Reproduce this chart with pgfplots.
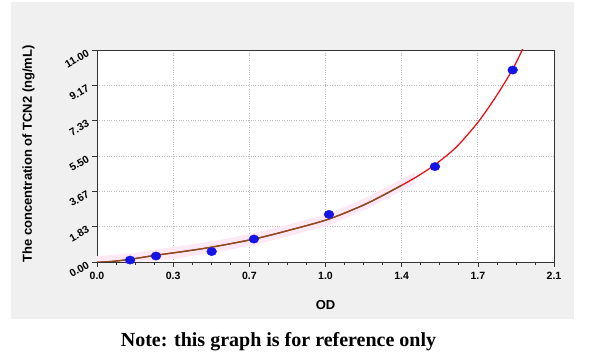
\documentclass[border=0pt]{standalone}
\usepackage{pgfplots}
\pgfplotsset{compat=1.18}
\usepackage{fontspec}
\setmainfont{Liberation Sans}
\newfontfamily\notefont{Liberation Serif}
\definecolor{panel}{HTML}{F0F0F0}
\definecolor{curvered}{HTML}{E8141A}
\definecolor{curvebrown}{HTML}{84501E}
\definecolor{dotblue}{HTML}{1414E6}
\definecolor{bandpink}{HTML}{FDE8F5}
\definecolor{gridgray}{HTML}{BDBDBD}
\definecolor{axisgray}{HTML}{333333}
\begin{document}
\begin{tikzpicture}[x=1pt,y=1pt]
\useasboundingbox (0,0) rectangle (600,358);
\fill[panel] (11,39) rectangle (574,356);
\begin{axis}[
  at={(97pt,96pt)}, anchor=south west,
  scale only axis, width=457pt, height=212pt,
  xmin=0, xmax=2.1, ymin=0, ymax=11,
  xtick={0,0.35,0.7,1.05,1.4,1.75,2.1},
  xticklabels={0.0,0.3,0.7,1.0,1.4,1.7,2.1},
  ytick={0,1.83333,3.66667,5.5,7.33333,9.16667,11},
  yticklabels={0.00,1.83,3.67,5.50,7.33,9.17,11.00},
  minor x tick num=3, minor y tick num=3,
  xtick pos=bottom, ytick pos=left,
  tick align=outside,
  major tick length=5pt, minor tick length=3pt,
  grid=major,
  major grid style={gridgray, dotted, line width=0.7pt},
  axis line style={axisgray, line width=0.8pt},
  every tick/.style={axisgray, line width=0.6pt},
  tick label style={font=\bfseries\fontsize{10.5}{11}\selectfont},
  xticklabel style={yshift=-2pt},
  yticklabel style={rotate=30, anchor=east, xshift=-1pt},
  xlabel={OD},
  ylabel={The concentration of TCN2 (ng/mL)},
  label style={font=\bfseries\fontsize{13}{15}\selectfont},
  xlabel style={at={(axis description cs:0.5,-0.203)}, anchor=center},
  ylabel style={at={(axis description cs:-0.150,0.51)}, anchor=center},
  axis background/.style={fill=white},
]
\addplot[fill=bandpink, draw=none] coordinates {
  (0,0.3) (0.152,0.44) (0.271,0.65) (0.4,0.85) (0.527,1.06) (0.721,1.49)
  (0.887,1.96) (1.066,2.51) (1.239,3.35) (1.40,4.3) (1.46,4.65)
  (1.46,4.05) (1.40,3.7) (1.239,2.75) (1.066,1.91) (0.887,1.36) (0.721,0.89)
  (0.527,0.46) (0.4,0.25) (0.271,0.05) (0.152,0) (0,0)};
\addplot[curvered, line width=1.3pt, smooth] coordinates {
  (0,-0.02) (0.08,0.04) (0.152,0.14) (0.271,0.35) (0.40,0.55) (0.527,0.77)
  (0.721,1.19) (0.887,1.66) (1.066,2.23) (1.239,3.03) (1.40,3.98)
  (1.48,4.50) (1.553,5.05) (1.65,5.95) (1.752,7.27) (1.837,8.65)
  (1.910,10.0) (1.956,11.05)};
\addplot[curvebrown, line width=1.3pt, smooth] coordinates {
  (0,-0.02) (0.08,0.04) (0.152,0.14) (0.271,0.35) (0.40,0.55) (0.527,0.77)
  (0.721,1.19) (0.887,1.66) (1.066,2.23) (1.239,3.03) (1.40,3.98)};
\addplot[only marks, mark=*, mark size=4.9pt, color=dotblue,
  mark options={yscale=0.85, draw=dotblue, fill=dotblue}] coordinates {
  (0.152,0.10) (0.271,0.31) (0.527,0.54) (0.721,1.19) (1.066,2.47)
  (1.553,4.95) (1.910,9.96)};
\end{axis}
\node[anchor=base, font=\notefont\bfseries\fontsize{20}{24}\selectfont] at (278.5,11) {Note: this graph is for reference only};
\end{tikzpicture}
\end{document}
